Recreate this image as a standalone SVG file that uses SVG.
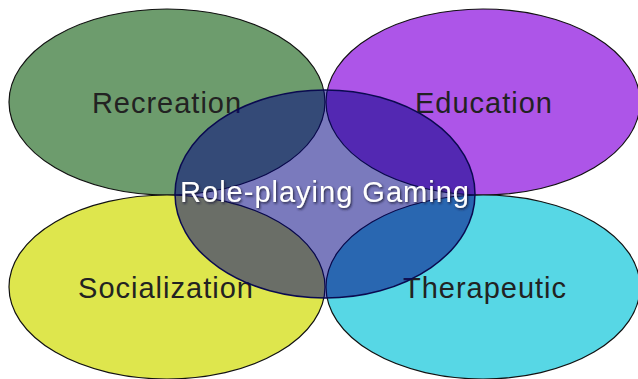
<svg xmlns="http://www.w3.org/2000/svg" width="638" height="379" viewBox="0 0 638 379">
  <defs>
    <style>
      .petal { stroke: #111; stroke-width: 1.2; }
      .label { font-family: "Liberation Sans", Arial, sans-serif; font-size: 29px; letter-spacing: 1px; fill: #222; text-anchor: middle; }
      .center-label { font-family: "Liberation Sans", Arial, sans-serif; font-size: 29px; letter-spacing: 1px; fill: #ffffff; text-anchor: middle; filter: url(#shadow); }
    </style>
    <filter id="shadow" x="-10%" y="-30%" width="120%" height="160%">
      <feDropShadow dx="1.2" dy="1.5" stdDeviation="0.8" flood-color="#1a1a3a" flood-opacity="0.9"/>
    </filter>
  </defs>
  <rect width="638" height="379" fill="#ffffff"/>
  <g id="recreation">
    <ellipse class="petal" cx="167" cy="102" rx="158" ry="93" fill="#6d9c6d"/>
    <text class="label" x="167" y="113">Recreation</text>
  </g>
  <g id="education">
    <ellipse class="petal" cx="483" cy="102" rx="157" ry="93" fill="#ad55e8"/>
    <text class="label" x="484" y="113">Education</text>
  </g>
  <g id="socialization">
    <ellipse class="petal" cx="167" cy="287" rx="158" ry="92" fill="#dee64d"/>
    <text class="label" x="166" y="298">Socialization</text>
  </g>
  <g id="therapeutic">
    <ellipse class="petal" cx="483" cy="287" rx="157" ry="92" fill="#57d7e5"/>
    <text class="label" x="485" y="298">Therapeutic</text>
  </g>
  <g id="role-playing-gaming">
    <ellipse cx="325" cy="194" rx="150" ry="104" fill="#000080" fill-opacity="0.52" stroke="#0a0a50" stroke-width="1.5"/>
    <text class="center-label" x="325" y="202">Role-playing Gaming</text>
  </g>
  <g id="connectors"/>
</svg>
